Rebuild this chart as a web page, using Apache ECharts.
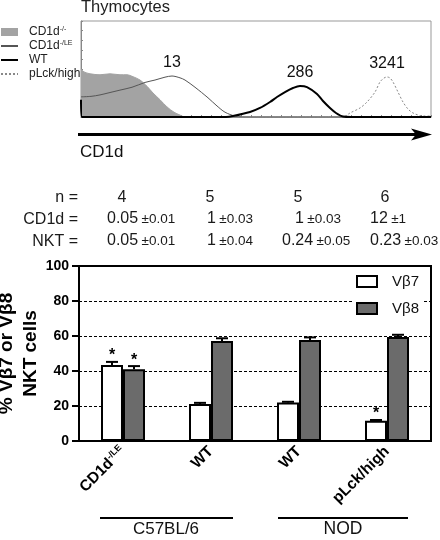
<!DOCTYPE html>
<html><head><meta charset="utf-8">
<script src="https://cdn.jsdelivr.net/npm/echarts/dist/echarts.min.js"></script>
<style>html,body{margin:0;padding:0;background:#fff}#c{width:440px;height:540px}</style>
</head><body><div id="c"></div>
<script>
// ---- Histogram (CD1d expression, thymocytes) : [channel, % of max] ----
const histKO   = [[0,50],[3,47],[9,45],[19,44],[29,45],[39,44],[46,44],[52,42],[59,38.5],[66,32],[72,25],[79,18],[86,10.5],[93,5],[99,2],[104,0],[350,0]];
const histLE   = [[0,21],[10,21.5],[19,23],[27,25],[39,28],[51,31],[64,36],[74,38.5],[84,41.5],[91,42.7],[99,40.8],[104,38.5],[114,31],[127,20],[136,11.5],[144,5],[154,1],[164,0],[350,0]];
const histWT   = [[0,18],[1,0],[145,0],[152,1],[169,5.2],[179,9.4],[189,15.6],[196,20.8],[204,26],[212,30.2],[219,32.3],[226,31.2],[236,24],[242,16.7],[249,9.4],[255,4.2],[262,0.5],[270,0],[350,0]];
const histHigh = [[0,0],[262,0],[269,4.2],[279,9.4],[286,15.6],[294,26],[299,36.5],[303,40.6],[306,41.7],[309,40.6],[312,36.5],[317,26],[322,15.6],[327,8.3],[332,4.2],[342,1],[350,1]];
const histNames = ['CD1d-/-','CD1d-/LE','WT','pLck/high'];
const peakLabels = ['13','286','3241'];

// ---- Stats table ----
const nVals     = ['4','5','5','6'];
const cd1dMean  = ['0.05','1','1','12'];
const cd1dSem   = ['0.01','0.03','0.03','1'];
const nktMean   = ['0.05','1','0.24','0.23'];
const nktSem    = ['0.01','0.04','0.05','0.03'];

// ---- Bar chart ----
const categories = ['CD1d-/LE','WT','WT','pLck/high'];
const vb7    = [43.4, 21.1, 22.0, 11.6];
const vb7Err = [1.8, 0.7, 0.4, 0.4];
const vb7Sig = [1, 0, 0, 1];
const vb8    = [41.0, 57.1, 57.7, 59.4];
const vb8Err = [1.8, 1.6, 1.5, 1.3];
const vb8Sig = [1, 0, 0, 0];
const groups = ['C57BL/6','NOD'];

const FONT = '"Liberation Sans", Arial, sans-serif';
const chart = echarts.init(document.getElementById('c'), null, {renderer:'canvas'});

function peakOf(arr){ let b=arr[0]; arr.forEach(p=>{ if(p[1]>b[1] && p[0]>5) b=p; }); return b; }
function mp(arr, label){
  const p = peakOf(arr);
  return {symbol:'circle', symbolSize:0, silent:true,
    label:{show:true, position:'top', distance:5, color:'#111', fontSize:16, fontFamily:FONT, formatter:label},
    data:[{coord:p, value:label}]};
}
function errSeries(vals, errs, sig, sign, name){
  return {
    type:'custom', name:name+'err', xAxisIndex:1, yAxisIndex:1, z:5,
    data: vals.map((v,i)=>[i, v, errs[i], sig[i]]),
    encode:{x:0,y:1},
    renderItem:function(params, api){
      const i=api.value(0), v=api.value(1), e=api.value(2), s=api.value(3);
      const base=api.coord([i,v]); const band=api.size([1,0])[0];
      const x=base[0]+sign*band*0.125;
      const top=api.coord([i,v+e])[1];
      const ch=[
        {type:'line', shape:{x1:x,y1:base[1],x2:x,y2:top}, style:{stroke:'#000',lineWidth:2}},
        {type:'line', shape:{x1:x-6,y1:top,x2:x+6,y2:top}, style:{stroke:'#000',lineWidth:2}}
      ];
      if(s){ ch.push({type:'text', style:{text:'*', x:x, y:top-6, align:'center', verticalAlign:'middle', font:'bold 16px '+FONT, fill:'#000'}}); }
      return {type:'group', children:ch};
    }
  };
}
const richSup = {
  b:{fontSize:15.5, fontWeight:'bold', fontFamily:FONT, color:'#000'},
  sup:{fontSize:9, fontWeight:'bold', fontFamily:FONT, color:'#000', verticalAlign:'top', padding:[0,0,8,0]}
};
function statText(x, y, mean, sem){
  return {type:'text', left:x, top:y, style:{text:'{m|'+mean+'} {s|±'+sem+'}', rich:{m:{fontSize:16,fontFamily:FONT,fill:'#1a1a1a'}, s:{fontSize:13.5,fontFamily:FONT,fill:'#1a1a1a'}}}};
}
const colN=[122,210,298,385];
const colCD=[107,207,295,370];
const colNKT=[107,207,282,370];
const graphics=[
  {type:'line', shape:{x1:78,y1:134.5,x2:416,y2:134.5}, style:{stroke:'#000',lineWidth:3}},
  {type:'polygon', shape:{points:[[411,128.5],[432,134.5],[411,140.5],[416,134.5]]}, style:{fill:'#000'}},
  {type:'text', x:80, y:152, style:{text:'CD1d', font:'17px '+FONT, fill:'#111', verticalAlign:'middle'}},
  {type:'text', x:78, y:198, style:{text:'n =', font:'16px '+FONT, fill:'#1a1a1a', align:'right', verticalAlign:'middle'}},
  {type:'text', x:78, y:220, style:{text:'CD1d =', font:'16px '+FONT, fill:'#1a1a1a', align:'right', verticalAlign:'middle'}},
  {type:'text', x:78, y:242, style:{text:'NKT =', font:'16px '+FONT, fill:'#1a1a1a', align:'right', verticalAlign:'middle'}},
  {type:'line', shape:{x1:100,y1:518,x2:233,y2:518}, style:{stroke:'#000',lineWidth:2}},
  {type:'line', shape:{x1:278,y1:518,x2:408,y2:518}, style:{stroke:'#000',lineWidth:2}},
  {type:'text', x:166, y:529, style:{text:groups[0], font:'17px '+FONT, fill:'#111', align:'center', verticalAlign:'middle'}},
  {type:'text', x:343, y:529, style:{text:groups[1], font:'17.5px '+FONT, fill:'#111', align:'center', verticalAlign:'middle'}}
];
nVals.forEach((v,i)=>graphics.push({type:'text', x:colN[i], y:198, style:{text:v, font:'16px '+FONT, fill:'#1a1a1a', align:'center', verticalAlign:'middle'}}));
cd1dMean.forEach((v,i)=>graphics.push(statText(colCD[i], 211, v, cd1dSem[i])));
nktMean.forEach((v,i)=>graphics.push(statText(colNKT[i], 233, v, nktSem[i])));

const legendRich = {n:{fontSize:12,fontFamily:FONT,color:'#222',lineHeight:12}, sup:{fontSize:7,fontFamily:FONT,color:'#222',verticalAlign:'top',lineHeight:12,padding:[0,0,4,0]}};
function legendFmt(name){
  const m = name.match(/^CD1d(.*)$/);
  return m ? '{n|CD1d}{sup|'+m[1]+'}' : '{n|'+name+'}';
}
const hid = {opacity:0};

chart.setOption({
  animation:false,
  backgroundColor:'#fff',
  title:{text:'Thymocytes', left:81, top:-1, padding:0, textStyle:{fontSize:16.5, fontWeight:'normal', fontFamily:FONT, color:'#222'}},
  legend:[
    {orient:'vertical', left:0, top:26, padding:0, itemWidth:17, itemHeight:8, itemGap:2,
     data:[{name:histNames[0], icon:'rect'}, {name:histNames[1], itemStyle:hid}, {name:histNames[2], itemStyle:hid}, {name:histNames[3], itemStyle:hid}],
     formatter:legendFmt, textStyle:{rich:legendRich, padding:[0,0,0,6]}, selectedMode:false},
    {orient:'vertical', left:353, top:272, padding:[2,4,2,3], backgroundColor:'#fff', itemWidth:20, itemHeight:11, itemGap:12,
     data:['Vβ7','Vβ8'], icon:'rect', selectedMode:false,
     textStyle:{fontSize:15, fontFamily:FONT, color:'#111', lineHeight:15, padding:[0,0,0,10]}}
  ],
  grid:[
    {left:81, top:21, width:350, height:96, show:true, borderColor:'#999', borderWidth:1, backgroundColor:'#fff', outerBoundsMode:'none', containLabel:false},
    {left:79, top:266, width:352, height:175, show:true, borderColor:'#000', borderWidth:2, outerBoundsMode:'none', containLabel:false}
  ],
  xAxis:[
    {type:'value', gridIndex:0, min:0, max:350, interval:10,
     axisLine:{show:true, lineStyle:{color:'#888',width:1}}, axisTick:{show:true, inside:true, length:2, lineStyle:{color:'#888'}},
     axisLabel:{show:false}, splitLine:{show:false}},
    {type:'category', gridIndex:1, data:categories,
     axisLine:{show:true, lineStyle:{color:'#000',width:2}}, axisTick:{show:false},
     axisLabel:{rotate:45, margin:8, interval:0, rich:richSup,
       formatter:function(v){ const m=v.match(/^CD1d(.*)$/); return m ? '{b|CD1d}{sup|'+m[1]+'}' : '{b|'+v+'}'; }}}
  ],
  yAxis:[
    {type:'value', gridIndex:0, min:0, max:100, interval:10,
     axisLine:{show:true, lineStyle:{color:'#888',width:1}}, axisTick:{show:true, inside:true, length:2, lineStyle:{color:'#888'}},
     axisLabel:{show:false}, splitLine:{show:false}},
    {type:'value', gridIndex:1, min:0, max:100, interval:20,
     name:'% Vβ7 or Vβ8\nNKT cells', nameLocation:'middle', nameGap:36, nameRotate:90, nameMoveOverlap:false,
     nameTextStyle:{fontSize:19, fontWeight:'bold', fontFamily:FONT, color:'#000', lineHeight:24},
     axisLine:{show:true, lineStyle:{color:'#000',width:2}}, axisTick:{show:true, length:7, lineStyle:{color:'#000',width:2}},
     axisLabel:{fontSize:14, fontWeight:'bold', fontFamily:FONT, color:'#000', margin:10},
     splitLine:{show:true, lineStyle:{color:'#000', width:1, type:[3,2]}}}
  ],
  series:[
    {name:histNames[0], type:'line', xAxisIndex:0, yAxisIndex:0, data:histKO, symbol:'none', smooth:0.3, z:1,
     lineStyle:{color:'#a3a3a3', width:1}, itemStyle:{color:'#a3a3a3'}, areaStyle:{color:'#a3a3a3', opacity:1}},
    {name:histNames[1], type:'line', xAxisIndex:0, yAxisIndex:0, data:histLE, symbol:'none', smooth:0.3, z:2,
     lineStyle:{color:'#555', width:1}, itemStyle:{color:'#555'}, markPoint:mp(histLE, peakLabels[0])},
    {name:histNames[3], type:'line', xAxisIndex:0, yAxisIndex:0, data:histHigh, symbol:'none', smooth:0.3, z:2,
     lineStyle:{color:'#888', width:1, type:[2,2]}, itemStyle:{color:'#888'}, markPoint:mp(histHigh, peakLabels[2])},
    {name:histNames[2], type:'line', xAxisIndex:0, yAxisIndex:0, data:histWT, symbol:'none', smooth:0.3, z:3,
     lineStyle:{color:'#000', width:2}, itemStyle:{color:'#000'}, markPoint:mp(histWT, peakLabels[1])},
    {name:'Vβ7', type:'bar', xAxisIndex:1, yAxisIndex:1, data:vb7, barWidth:22, barGap:'0%', z:3,
     itemStyle:{color:'#fff', borderColor:'#000', borderWidth:2}},
    {name:'Vβ8', type:'bar', xAxisIndex:1, yAxisIndex:1, data:vb8, barWidth:22, barGap:'0%', z:3,
     itemStyle:{color:'#6b6b6b', borderColor:'#000', borderWidth:2}},
    errSeries(vb7, vb7Err, vb7Sig, -1, 'Vβ7'),
    errSeries(vb8, vb8Err, vb8Sig, 1, 'Vβ8')
  ],
  graphic:graphics
});
</script></body></html>
